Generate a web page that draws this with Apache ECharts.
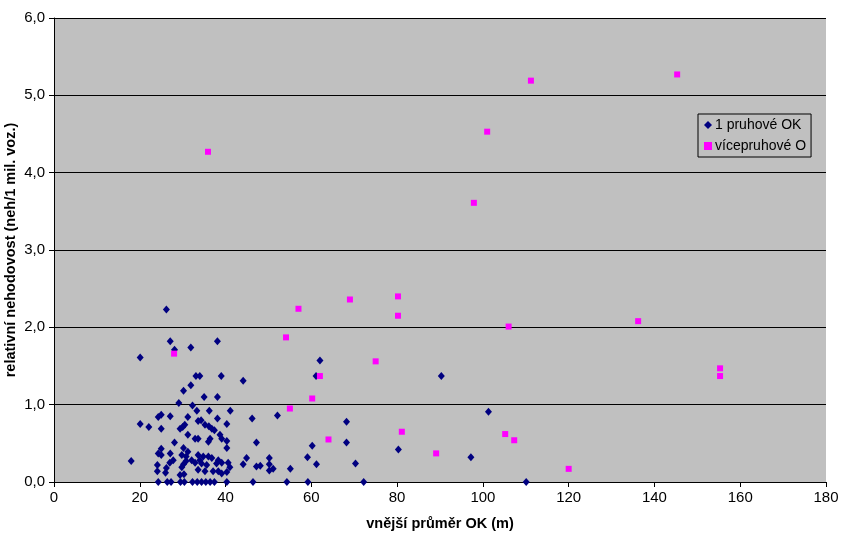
<!DOCTYPE html>
<html>
<head>
<meta charset="utf-8">
<script src="https://cdn.jsdelivr.net/npm/echarts@6/dist/echarts.min.js"></script>
<style>
html,body{margin:0;padding:0;background:#fff;}
#c{width:853px;height:538px;}
</style>
</head>
<body>
<div id="c"></div>
<script>
// x: vnější průměr OK (m), y: relativní nehodovost
const seriesNames = ['1 pruhové OK', 'vícepruhové O'];
const xTicks = [0, 20, 40, 60, 80, 100, 120, 140, 160, 180];
const yTicks = [0, 1, 2, 3, 4, 5, 6];

const singleLaneX = [
  26.2, 27.1, 38.1, 31.9, 28.1, 20.1, 33.1, 34.0, 39.0, 44.1, 31.9, 30.2, 35.0, 38.1, 29.1, 32.3,
  33.3, 36.2, 41.1, 62.0, 61.1, 90.3, 101.3,
  24.3, 25.0, 27.1, 31.2, 38.1, 46.2, 52.1, 68.2, 33.6, 34.3, 20.1, 22.1, 25.0, 29.4, 30.0, 30.5,
  35.2, 36.1, 36.8, 37.4, 40.3, 31.2, 38.7, 32.9, 33.6, 36.4, 39.1, 36.0, 40.3, 28.1, 47.2, 60.2, 68.2,
  25.0, 24.3, 25.0, 27.1, 30.2, 29.8, 30.8, 40.3, 31.2, 33.6, 34.8, 36.0, 80.3, 97.2,
  18.0, 24.1, 27.0, 27.8, 30.2, 29.8, 30.8, 32.1, 34.0, 36.8, 38.3, 32.9, 34.4, 35.6, 37.9, 39.1, 40.6,
  44.9, 44.1, 47.2, 48.1, 50.2, 50.2, 51.1, 50.2, 55.1, 59.1, 61.2, 70.3,
  24.1, 26.0, 26.2, 29.4, 30.3, 33.6, 35.2, 37.1, 38.3, 39.1, 40.3, 41.0,
  24.3, 26.4, 27.3, 29.5, 30.4, 32.3, 33.4, 34.4, 35.4, 36.4, 37.4, 40.3, 46.4, 54.3, 59.2, 72.2, 110.1
];
const singleLaneY = [
  2.23, 1.82, 1.82, 1.74, 1.71, 1.61, 1.37, 1.37, 1.37, 1.31, 1.25, 1.18, 1.10, 1.10, 1.02, 0.99,
  0.92, 0.92, 0.92, 1.57, 1.37, 1.37, 0.91,
  0.84, 0.87, 0.85, 0.84, 0.82, 0.82, 0.86, 0.78, 0.79, 0.80, 0.75, 0.71, 0.69, 0.69, 0.71, 0.74,
  0.74, 0.72, 0.69, 0.67, 0.75, 0.61, 0.61, 0.56, 0.56, 0.56, 0.56, 0.52, 0.53, 0.51, 0.51, 0.47, 0.51,
  0.43, 0.37, 0.35, 0.37, 0.44, 0.35, 0.33, 0.44, 0.39, 0.35, 0.33, 0.33, 0.42, 0.32,
  0.27, 0.22, 0.25, 0.28, 0.23, 0.19, 0.27, 0.28, 0.28, 0.31, 0.28, 0.25, 0.24, 0.22, 0.24, 0.25, 0.25,
  0.31, 0.23, 0.20, 0.21, 0.31, 0.23, 0.17, 0.15, 0.17, 0.32, 0.23, 0.24,
  0.14, 0.12, 0.18, 0.09, 0.10, 0.16, 0.14, 0.14, 0.14, 0.11, 0.13, 0.19,
  0, 0, 0, 0, 0, 0, 0, 0, 0, 0, 0, 0, 0, 0, 0, 0, 0
];

const multiLaneX = [
  28.0, 35.9, 57.0, 69.0, 80.2, 80.2, 54.1, 75.0, 62.0, 60.2, 55.0, 64.0, 81.1,
  106.0, 105.2, 107.3, 89.1, 120.0, 97.9, 101.0, 111.2, 145.3, 136.2, 155.3, 155.3
];
const multiLaneY = [
  1.66, 4.27, 2.24, 2.36, 2.40, 2.15, 1.87, 1.56, 1.37, 1.08, 0.95, 0.55, 0.65,
  2.01, 0.62, 0.54, 0.37, 0.17, 3.61, 4.53, 5.19, 5.27, 2.08, 1.47, 1.37
];

const pairs = (xs, ys) => xs.map((x, i) => [x, ys[i]]);
const FONT = '"Liberation Sans", Arial, sans-serif';

const chart = echarts.init(document.getElementById('c'), null, {renderer: 'canvas'});
chart.setOption({
  backgroundColor: '#ffffff',
  animation: false,
  textStyle: {fontFamily: FONT, color: '#000'},
  grid: {
    left: 54, right: 27, top: 18, bottom: 56,
    containLabel: false, outerBoundsMode: 'none',
    show: true, backgroundColor: '#C0C0C0', borderWidth: 0
  },
  legend: {
    left: 698, top: 114,
    orient: 'vertical',
    backgroundColor: '#C0C0C0',
    borderColor: '#000', borderWidth: 1,
    padding: [4, 5, 4, 6],
    itemGap: 7,
    itemWidth: 8, itemHeight: 8,
    textStyle: {fontFamily: FONT, fontSize: 14, color: '#000', padding: [0,0,0,-2]},
    data: [
      {name: seriesNames[0], icon: 'diamond'},
      {name: seriesNames[1], icon: 'rect'}
    ]
  },
  xAxis: {
    type: 'value', min: xTicks[0], max: xTicks[xTicks.length - 1], interval: 20,
    name: 'vnější průměr OK (m)', nameLocation: 'middle', nameGap: 34,
    nameMoveOverlap: false,
    nameTextStyle: {fontFamily: FONT, fontSize: 14.5, fontWeight: 'bold', color: '#000'},
    axisLine: {show: true, onZero: false, lineStyle: {color: '#000', width: 1}},
    axisTick: {show: true, inside: false, length: 5, lineStyle: {color: '#000'}},
    axisLabel: {fontFamily: FONT, fontSize: 15, color: '#000', margin: 8},
    splitLine: {show: false}
  },
  yAxis: {
    type: 'value', min: yTicks[0], max: yTicks[yTicks.length - 1], interval: 1,
    name: 'relativní nehodovost (neh/1 mil. voz.)', nameLocation: 'middle', nameGap: 36,
    nameMoveOverlap: false,
    nameTextStyle: {fontFamily: FONT, fontSize: 14.5, fontWeight: 'bold', color: '#000'},
    axisLine: {show: true, onZero: false, lineStyle: {color: '#000', width: 1}},
    axisTick: {show: true, inside: false, length: 5, lineStyle: {color: '#000'}},
    axisLabel: {fontFamily: FONT, fontSize: 15, color: '#000', margin: 9,
      formatter: v => v.toFixed(1).replace('.', ',')},
    splitLine: {show: true, lineStyle: {color: '#000', width: 1}}
  },
  series: [
    {
      name: seriesNames[0], type: 'scatter', symbol: 'diamond', symbolSize: [7, 8],
      itemStyle: {color: '#000080', opacity: 1},
      data: pairs(singleLaneX, singleLaneY), z: 3
    },
    {
      name: seriesNames[1], type: 'scatter', symbol: 'rect', symbolSize: 6,
      itemStyle: {color: '#FF00FF', opacity: 1},
      data: pairs(multiLaneX, multiLaneY), z: 4
    }
  ]
});
</script>
</body>
</html>
